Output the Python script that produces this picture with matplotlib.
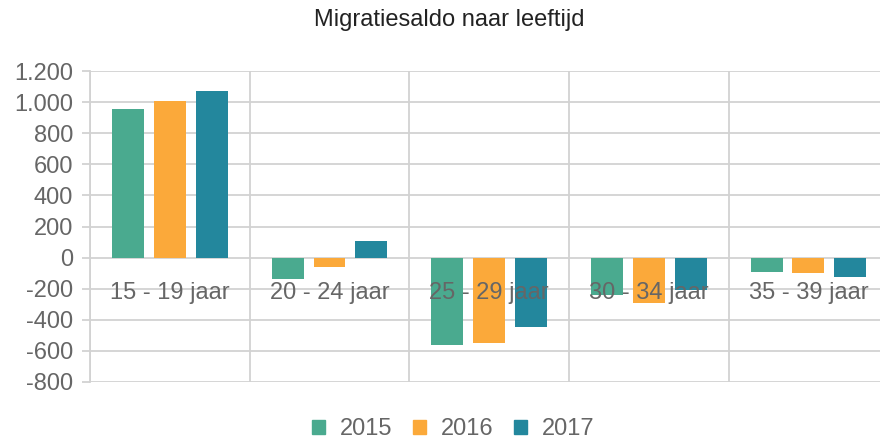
import numpy as np
import matplotlib.pyplot as plt
from matplotlib.patches import Patch

# Data
leeftijden = ['15 - 19 jaar', '20 - 24 jaar', '25 - 29 jaar', '30 - 34 jaar', '35 - 39 jaar']
jaren = ['2015', '2016', '2017']
saldo_2015 = [955, -135, -560, -238, -90]
saldo_2016 = [1010, -58, -547, -290, -97]
saldo_2017 = [1070, 109, -444, -206, -122]
kleuren = ['#4aaa8f', '#fba93a', '#23879d']

plt.rcParams['font.family'] = ['Liberation Sans', 'DejaVu Sans']
grijs = '#d2d2d2'
tekst = '#666666'

fig = plt.figure(figsize=(8.8, 4.41), dpi=100)
ax = fig.add_axes([0.1023, 0.1338, 0.907, 0.705])

x = np.arange(len(leeftijden))
breedte = 0.2
for i, (reeks, kleur) in enumerate(zip([saldo_2015, saldo_2016, saldo_2017], kleuren)):
    ax.bar(x + (i - 1) * 0.262, reeks, width=breedte, color=kleur, zorder=2)

ax.set_xlim(-0.5, len(leeftijden) - 0.5)
ax.set_ylim(-800, 1200)
ax.set_yticks(np.arange(-800, 1201, 200))
ax.set_yticklabels([f'{v:,}'.replace(',', '.') for v in range(-800, 1201, 200)])
ax.set_xticks(np.arange(-0.5, len(leeftijden)), minor=False)
ax.set_xticklabels([])
ax.tick_params(axis='x', length=0)
ax.tick_params(axis='y', length=6, width=1.3, color=grijs, labelsize=17,
               labelcolor=tekst, pad=6)
ax.grid(True, color=grijs, lw=1.3, zorder=0)
for s in ['top', 'right', 'bottom']:
    ax.spines[s].set_visible(False)
ax.spines['left'].set_color(grijs)
ax.spines['left'].set_linewidth(1.3)
ax.set_axisbelow(True)

# categorie-labels over de balken
for xi, lab in zip(x, leeftijden):
    ax.text(xi, -225, lab, ha='center', va='center', fontsize=17, color=tekst, zorder=3)

fig.text(0.51, 0.955, 'Migratiesaldo naar leeftijd', ha='center', va='center',
         fontsize=17, color='#222222')

handles = [Patch(color=c, label=j) for c, j in zip(kleuren, jaren)]
fig.legend(handles=handles, loc='center', bbox_to_anchor=(0.515, 0.027), ncol=3,
           frameon=False, fontsize=17, labelcolor=tekst, handlelength=0.55,
           handleheight=0.55, handletextpad=0.6, columnspacing=0.9,
           borderpad=0.1)

fig.savefig('out.png', dpi=100)
